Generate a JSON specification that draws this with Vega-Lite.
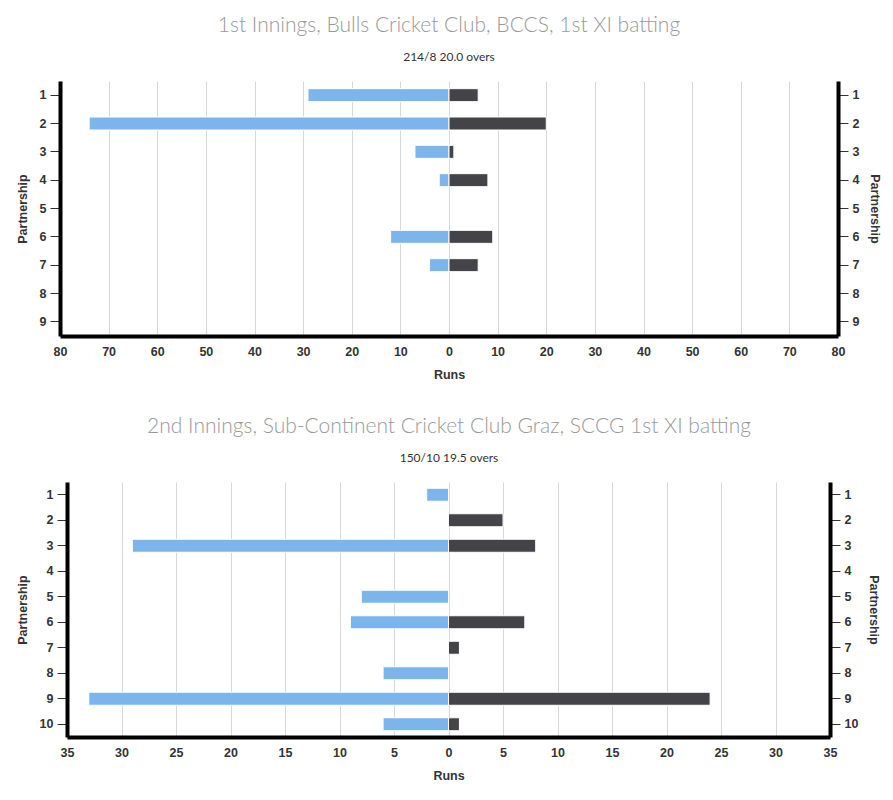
{
  "$schema": "https://vega.github.io/schema/vega-lite/v6.json",
  "padding": {"left": 16, "top": 15, "right": 8, "bottom": 8},
  "background": "white",
  "spacing": 35,
  "config": {
    "view": {"stroke": null},
    "font": "Liberation Sans",
    "title": {
      "font": "Lato",
      "fontSize": 21,
      "fontWeight": 300,
      "color": "#999999",
      "anchor": "middle",
      "subtitleFont": "Lato",
      "subtitleFontSize": 12,
      "subtitleColor": "#333333",
      "subtitlePadding": 16,
      "offset": 18
    },
    "axis": {
      "labelFont": "Liberation Sans",
      "labelFontSize": 12.5,
      "labelFontWeight": "bold",
      "labelColor": "#333333",
      "titleFont": "Liberation Sans",
      "titleFontSize": 12.5,
      "titleFontWeight": "bold",
      "titleColor": "#333333",
      "domainColor": "#000000",
      "domainWidth": 4
    },
    "axisY": {
      "grid": false,
      "tickColor": "#333333",
      "tickSize": 10,
      "tickWidth": 1,
      "labelPadding": 4,
      "labelAngle": 0
    },
    "axisX": {
      "gridColor": "#d8d8d8",
      "gridWidth": 1,
      "ticks": false,
      "labelFlush": false,
      "labelPadding": 9,
      "titlePadding": 11
    }
  },
  "vconcat": [
    {
      "title": {"text": "1st Innings, Bulls Cricket Club, BCCS, 1st XI batting", "subtitle": "214/8 20.0 overs"},
      "width": 778,
      "height": 255,
      "data": {
        "values": [
          {"partnership": 1, "side": "left", "runs": -29},
          {"partnership": 1, "side": "right", "runs": 6},
          {"partnership": 2, "side": "left", "runs": -74},
          {"partnership": 2, "side": "right", "runs": 20},
          {"partnership": 3, "side": "left", "runs": -7},
          {"partnership": 3, "side": "right", "runs": 1},
          {"partnership": 4, "side": "left", "runs": -2},
          {"partnership": 4, "side": "right", "runs": 8},
          {"partnership": 6, "side": "left", "runs": -12},
          {"partnership": 6, "side": "right", "runs": 9},
          {"partnership": 7, "side": "left", "runs": -4},
          {"partnership": 7, "side": "right", "runs": 6}
        ]
      },
      "encoding": {
        "x": {
          "field": "runs",
          "type": "quantitative",
          "stack": null,
          "scale": {"domain": [-80, 80], "nice": false},
          "axis": {
            "title": "Runs",
            "values": [-80, -70, -60, -50, -40, -30, -20, -10, 0, 10, 20, 30, 40, 50, 60, 70, 80],
            "labelExpr": "abs(datum.value)"
          }
        },
        "color": {
          "field": "side",
          "type": "nominal",
          "scale": {"domain": ["left", "right"], "range": ["#7cb5ec", "#434348"]},
          "legend": null
        }
      },
      "layer": [
        {
          "mark": {"type": "bar", "height": 13, "stroke": "white", "strokeWidth": 1},
          "encoding": {
            "y": {
              "field": "partnership",
              "type": "ordinal",
              "scale": {"domain": [1, 2, 3, 4, 5, 6, 7, 8, 9], "paddingInner": 0, "paddingOuter": 0},
              "axis": {"orient": "left", "title": "Partnership", "titlePadding": 10}
            }
          }
        },
        {
          "mark": {"type": "point", "opacity": 0},
          "encoding": {
            "y": {
              "field": "partnership",
              "type": "ordinal",
              "scale": {"domain": [1, 2, 3, 4, 5, 6, 7, 8, 9], "paddingInner": 0, "paddingOuter": 0},
              "axis": {"orient": "right", "title": "Partnership", "titlePadding": 9}
            }
          }
        }
      ],
      "resolve": {"axis": {"y": "independent"}}
    },
    {
      "title": {"text": "2nd Innings, Sub-Continent Cricket Club Graz, SCCG 1st XI batting", "subtitle": "150/10 19.5 overs"},
      "width": 778,
      "height": 255,
      "data": {
        "values": [
          {"partnership": 1, "side": "left", "runs": -2},
          {"partnership": 2, "side": "right", "runs": 5},
          {"partnership": 3, "side": "left", "runs": -29},
          {"partnership": 3, "side": "right", "runs": 8},
          {"partnership": 5, "side": "left", "runs": -8},
          {"partnership": 6, "side": "left", "runs": -9},
          {"partnership": 6, "side": "right", "runs": 7},
          {"partnership": 7, "side": "right", "runs": 1},
          {"partnership": 8, "side": "left", "runs": -6},
          {"partnership": 9, "side": "left", "runs": -33},
          {"partnership": 9, "side": "right", "runs": 24},
          {"partnership": 10, "side": "left", "runs": -6},
          {"partnership": 10, "side": "right", "runs": 1}
        ]
      },
      "encoding": {
        "x": {
          "field": "runs",
          "type": "quantitative",
          "stack": null,
          "scale": {"domain": [-35, 35], "nice": false, "range": [7, 770]},
          "axis": {
            "title": "Runs",
            "values": [-35, -30, -25, -20, -15, -10, -5, 0, 5, 10, 15, 20, 25, 30, 35],
            "labelExpr": "abs(datum.value)"
          }
        },
        "color": {
          "field": "side",
          "type": "nominal",
          "scale": {"domain": ["left", "right"], "range": ["#7cb5ec", "#434348"]},
          "legend": null
        }
      },
      "layer": [
        {
          "mark": {"type": "bar", "height": 13, "stroke": "white", "strokeWidth": 1},
          "encoding": {
            "y": {
              "field": "partnership",
              "type": "ordinal",
              "scale": {"domain": [1, 2, 3, 4, 5, 6, 7, 8, 9, 10], "paddingInner": 0, "paddingOuter": 0},
              "axis": {"orient": "left", "title": "Partnership", "titlePadding": 10, "offset": -7}
            }
          }
        },
        {
          "mark": {"type": "point", "opacity": 0},
          "encoding": {
            "y": {
              "field": "partnership",
              "type": "ordinal",
              "scale": {"domain": [1, 2, 3, 4, 5, 6, 7, 8, 9, 10], "paddingInner": 0, "paddingOuter": 0},
              "axis": {"orient": "right", "title": "Partnership", "titlePadding": 9, "offset": -8}
            }
          }
        }
      ],
      "resolve": {"axis": {"y": "independent"}}
    }
  ]
}
